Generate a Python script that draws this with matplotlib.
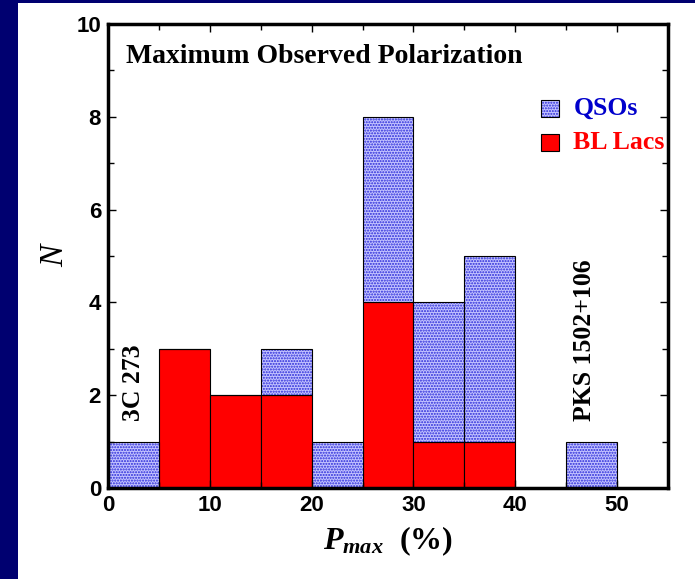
import numpy as np
import matplotlib.pyplot as plt
from matplotlib.patches import Rectangle

# histogram bins (Pmax %) and counts
bin_left = [0, 5, 10, 15, 20, 25, 30, 35, 40, 45]
bl_lacs = [0, 3, 2, 2, 0, 4, 1, 1, 0, 0]
qsos = [1, 0, 0, 1, 1, 4, 3, 4, 0, 1]

plt.rcParams['mathtext.fontset'] = 'custom'
plt.rcParams['mathtext.it'] = 'Liberation Serif:italic:bold'

qso_face = '#c4c4ff'
qso_dots = '#2828d8'

fig = plt.figure(figsize=(6.95, 5.79), dpi=100)
fig.patch.set_facecolor('#000070')
fig.patches.append(Rectangle((18/695, 0), 1, 1 - 3/579, transform=fig.transFigure,
                             facecolor='white', edgecolor='none', zorder=-10))
ax = fig.add_axes([108/695, 1 - 488/579, 560/695, 464/579])

w = 5
ax.bar(bin_left, bl_lacs, width=w, align='edge', color='#ff0000', edgecolor='black', linewidth=0.8)
ax.bar(bin_left, qsos, width=w, bottom=bl_lacs, align='edge', color=qso_face,
       hatch='......', edgecolor=qso_dots, linewidth=0)
ax.bar(bin_left, qsos, width=w, bottom=bl_lacs, align='edge', color='none',
       edgecolor='black', linewidth=0.8)

ax.set_xlim(0, 55)
ax.set_ylim(0, 10)
ax.set_xticks([0, 10, 20, 30, 40, 50])
ax.set_xticks(np.arange(5, 55, 10), minor=True)
ax.set_yticks([0, 2, 4, 6, 8, 10])
ax.set_yticks(np.arange(1, 10, 2), minor=True)
ax.tick_params(which='both', direction='in', top=True, right=True, labelsize=16)
ax.tick_params(which='major', length=6, width=1, pad=5)
ax.tick_params(which='minor', length=4, width=1)
for lab in ax.get_xticklabels() + ax.get_yticklabels():
    lab.set_fontfamily('Liberation Sans')
    lab.set_fontweight('bold')
for s in ax.spines.values():
    s.set_linewidth(2.5)

ax.set_ylabel('N', fontsize=24, family='Liberation Serif', style='italic', labelpad=4)
ax.set_xlabel(r'$P_{max}$  (%)', fontsize=23, family='Liberation Serif',
              fontweight='bold', labelpad=6)

ax.text(1.8, 9.3, 'Maximum Observed Polarization', fontsize=20, fontweight='bold',
        family='Liberation Serif', va='center')
ax.text(2.5, 1.45, '3C 273', rotation=90, fontsize=18.5, fontweight='bold',
        family='Liberation Serif', ha='center', va='bottom')
ax.text(46.8, 1.45, 'PKS 1502+106', rotation=90, fontsize=18.5, fontweight='bold',
        family='Liberation Serif', ha='center', va='bottom')

# legend
ax.add_patch(Rectangle((42.5, 8.0), 1.8, 0.37, facecolor=qso_face, hatch='......',
                       edgecolor=qso_dots, linewidth=0))
ax.add_patch(Rectangle((42.5, 8.0), 1.8, 0.37, facecolor='none', edgecolor='black', linewidth=0.8))
ax.add_patch(Rectangle((42.5, 7.27), 1.8, 0.37, facecolor='#ff0000', edgecolor='black', linewidth=0.8))
ax.text(45.7, 8.18, 'QSOs', color='#0000cc', fontsize=18.5, fontweight='bold',
        family='Liberation Serif', va='center')
ax.text(45.7, 7.45, 'BL Lacs', color='#ff0000', fontsize=18.5, fontweight='bold',
        family='Liberation Serif', va='center')

fig.savefig('out.png', dpi=100, facecolor=fig.get_facecolor())
